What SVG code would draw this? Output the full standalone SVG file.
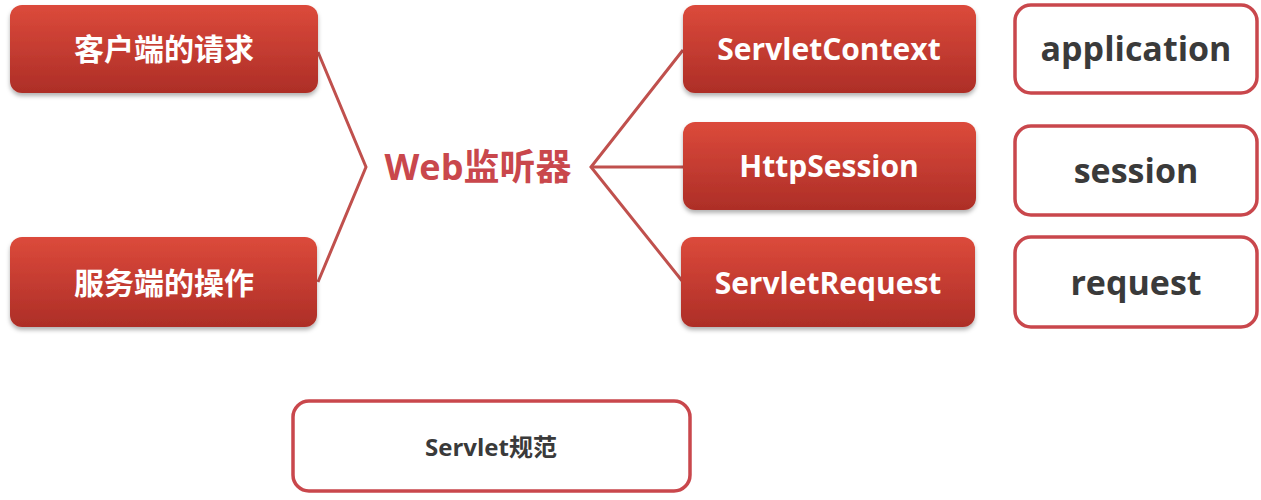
<svg xmlns="http://www.w3.org/2000/svg" width="1261" height="500" viewBox="0 0 1261 500">
<defs>
<linearGradient id="rg" x1="0" y1="0" x2="0" y2="1"><stop offset="0" stop-color="#dc4a3b"/><stop offset="1" stop-color="#ad2e27"/></linearGradient>
<filter id="sh" x="-10%" y="-10%" width="120%" height="130%"><feDropShadow dx="0" dy="3" stdDeviation="2" flood-color="#000" flood-opacity="0.3"/></filter>
</defs>
<style>
.r{fill:url(#rg);filter:url(#sh)}
.w{fill:#fff;stroke:#c9474c;stroke-width:3.5}
.t{font-family:"Open Sans","Noto Sans CJK SC",sans-serif;font-weight:bold;text-anchor:middle}
.tw{fill:#fff;font-size:30px}
.td{fill:#3a3a3a;font-size:34px}
.ln{fill:none;stroke:#c0504d;stroke-width:3}
</style>
<rect width="1261" height="500" fill="#fff"/>
<g id="connectors">
<polyline class="ln" points="318,52 366,167 318,282"/>
<polyline class="ln" points="683,50 591,167 683,282"/>
<line class="ln" x1="591" y1="167" x2="683" y2="167"/>
</g>
<g id="n1"><rect class="r" x="10" y="5" width="308" height="88" rx="12"/><text class="t tw" x="164" y="60">客户端的请求</text></g>
<g id="n2"><rect class="r" x="10" y="237" width="307" height="90" rx="12"/><text class="t tw" x="164" y="294">服务端的操作</text></g>
<g id="web"><text class="t" x="478" y="180" font-size="36" fill="#c9474c">Web监听器</text></g>
<g id="n3"><rect class="r" x="683" y="5" width="293" height="88" rx="12"/><text class="t tw" x="829" y="60">ServletContext</text></g>
<g id="n4"><rect class="r" x="683" y="122" width="293" height="88" rx="12"/><text class="t tw" x="829" y="177">HttpSession</text></g>
<g id="n5"><rect class="r" x="681" y="237" width="294" height="90" rx="12"/><text class="t tw" x="828" y="294">ServletRequest</text></g>
<g id="n6"><rect class="w" x="1015" y="5" width="242" height="88" rx="16"/><text class="t td" x="1136" y="61">application</text></g>
<g id="n7"><rect class="w" x="1015" y="126" width="242" height="89" rx="16"/><text class="t td" x="1136" y="183">session</text></g>
<g id="n8"><rect class="w" x="1015" y="237" width="242" height="90" rx="16"/><text class="t td" x="1136" y="295">request</text></g>
<g id="n9"><rect class="w" x="293" y="401" width="397" height="90" rx="16"/><text class="t" x="491" y="456" font-size="24" fill="#3a3a3a">Servlet规范</text></g>
</svg>
